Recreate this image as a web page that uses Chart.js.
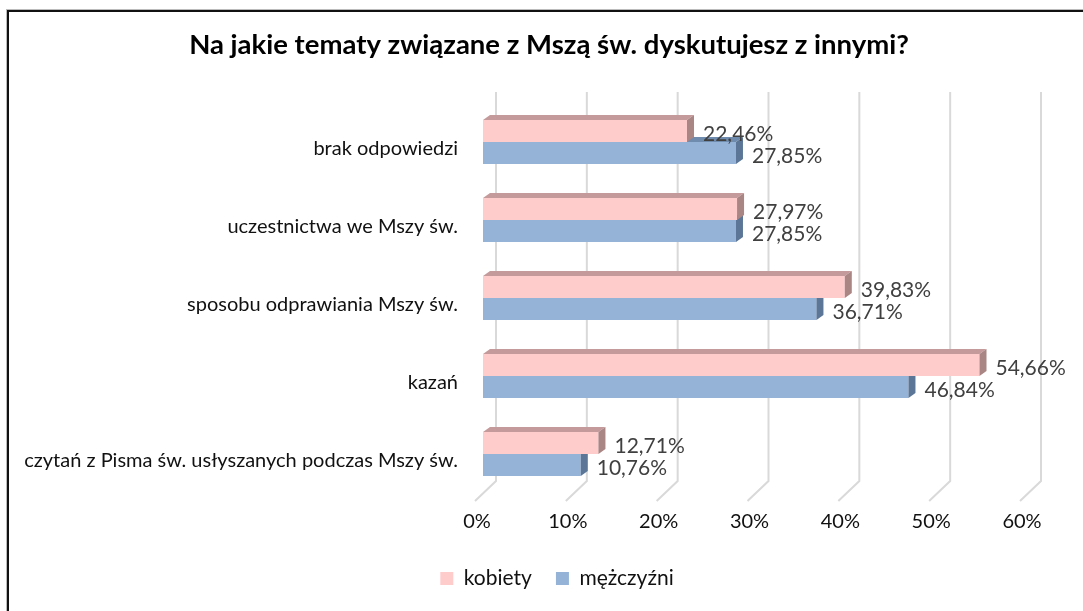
<!DOCTYPE html>
<html lang="pl">
<head>
<meta charset="utf-8">
<script src="https://cdn.jsdelivr.net/npm/chart.js@4/dist/chart.umd.min.js"></script>
<style>
  html, body { margin: 0; padding: 0; background: #fff; overflow: hidden; }
  #wrap { position: relative; width: 1083px; height: 611px; }
  #frame {
    position: absolute; left: 7px; top: 10px; width: 1200px; height: 700px;
    border-left: 2px solid #111; border-top: 2px solid #111;
    box-shadow: -1px -1px 0 #bbb;
    pointer-events: none;
  }
</style>
</head>
<body>
<div id="wrap">
  <canvas id="topics" width="1083" height="611"></canvas>
  <div id="frame"></div>
</div>
<script>
//----------------------
// Data
//----------------------

const categories = [
    'brak odpowiedzi',
    'uczestnictwa we Mszy św.',
    'sposobu odprawiania Mszy św.',
    'kazań',
    'czytań z Pisma św. usłyszanych podczas Mszy św.'
];
const women = [22.46, 27.97, 39.83, 54.66, 12.71];
const men = [27.85, 27.85, 36.71, 46.84, 10.76];
const xTicks = [0, 10, 20, 30, 40, 50, 60];

const FONT = 'Lato, "Open Sans", sans-serif';
const DEPTH_X = 7, DEPTH_Y = 5;     // bar depth
const WALL_X = 13, WALL_Y = 11;     // back wall offset

const pct = v => v.toFixed(2).replace('.', ',') + '%';

//----------------------
// 3D look: back wall grid, bar faces, value labels
//----------------------

const faceColors = [
    { top: '#c49b9a', side: '#a98584' },
    { top: '#6f8bad', side: '#5b7697' }
];

const depthPlugin = {
    id: 'depth',
    afterLayout(chart) {
        // title and legend sit a bit right of the plot's centre
        chart.titleBlock.left += 35;
        chart.titleBlock.right += 35;
        chart.legend.left += 43;
        chart.legend.right += 43;
    },
    beforeDatasetsDraw(chart) {
        const { ctx, chartArea } = chart;
        const xs = chart.scales.x;
        ctx.save();
        ctx.strokeStyle = '#d9d9d9';
        ctx.lineWidth = 2;
        xTicks.forEach(v => {
            const x = xs.getPixelForValue(v) + WALL_X;
            const yTop = chartArea.top - WALL_Y;
            const yBase = chartArea.bottom - WALL_Y - 1;
            ctx.beginPath();
            ctx.moveTo(x, yTop);
            ctx.lineTo(x, yBase);
            ctx.lineTo(x - 21, yBase + 20);
            ctx.stroke();
        });
        ctx.restore();
    },
    afterDatasetDraw(chart, args) {
        const { ctx } = chart;
        const col = faceColors[args.index];
        ctx.save();
        args.meta.data.forEach(bar => {
            const top = bar.y - bar.height / 2;
            const bottom = bar.y + bar.height / 2;
            const left = bar.base, right = bar.x;
            // top face
            ctx.fillStyle = col.top;
            ctx.beginPath();
            ctx.moveTo(left, top);
            ctx.lineTo(left + DEPTH_X, top - DEPTH_Y);
            ctx.lineTo(right + DEPTH_X, top - DEPTH_Y);
            ctx.lineTo(right, top);
            ctx.closePath();
            ctx.fill();
            // side face
            ctx.fillStyle = col.side;
            ctx.beginPath();
            ctx.moveTo(right, top);
            ctx.lineTo(right + DEPTH_X, top - DEPTH_Y);
            ctx.lineTo(right + DEPTH_X, bottom - DEPTH_Y);
            ctx.lineTo(right, bottom);
            ctx.closePath();
            ctx.fill();
        });
        ctx.restore();
    },
    afterDatasetsDraw(chart) {
        const { ctx } = chart;
        ctx.save();
        ctx.font = '21px ' + FONT;
        ctx.fillStyle = '#404040';
        ctx.textAlign = 'left';
        ctx.textBaseline = 'middle';
        chart.data.datasets.forEach((ds, i) => {
            chart.getDatasetMeta(i).data.forEach((bar, j) => {
                ctx.fillText(pct(ds.data[j]), bar.x + 16, bar.y + 3);
            });
        });
        ctx.restore();
    }
};

//----------------------
// Chart
//----------------------

const ctx = document.getElementById('topics').getContext('2d');
const chart = new Chart(ctx, {
    type: 'bar',
    data: {
        labels: categories,
        datasets: [{
            label: 'kobiety',
            data: women,
            backgroundColor: '#ffcccc'
        }, {
            label: 'mężczyźni',
            data: men,
            backgroundColor: '#95b3d7'
        }]
    },
    options: {
        indexAxis: 'y',
        responsive: false,
        animation: false,
        layout: { padding: { top: 0, right: 55, bottom: 12, left: 0 } },
        datasets: {
            bar: { barPercentage: 1, categoryPercentage: 0.562 }
        },
        scales: {
            x: {
                min: 0, max: 60,
                afterBuildTicks: s => { s.ticks = xTicks.map(v => ({ value: v })); },
                grid: { display: false, drawTicks: false },
                border: { display: false },
                ticks: {
                    callback: v => v + '%',
                    color: '#111',
                    font: { family: FONT, size: 20 },
                    padding: 17,
                    labelOffset: -6
                },
                afterFit: s => { s.height = 51; }
            },
            y: {
                grid: { display: false, drawTicks: false },
                border: { display: false },
                ticks: {
                    color: '#111',
                    font: { family: FONT, size: 20 },
                    padding: 25,
                    labelOffset: 7
                },
                afterFit: s => { s.width = 483; }
            }
        },
        plugins: {
            title: {
                display: true,
                text: 'Na jakie tematy związane z Mszą św. dyskutujesz z innymi?',
                color: '#000',
                font: { family: FONT, size: 27.5, weight: 'bold' },
                padding: { top: 29, bottom: 41 }
            },
            legend: {
                position: 'bottom',
                labels: {
                    color: '#111',
                    font: { family: FONT, size: 21 },
                    boxWidth: 13,
                    boxHeight: 13,
                    padding: 24
                }
            },
            tooltip: { enabled: false }
        }
    },
    plugins: [depthPlugin]
});
</script>
</body>
</html>
